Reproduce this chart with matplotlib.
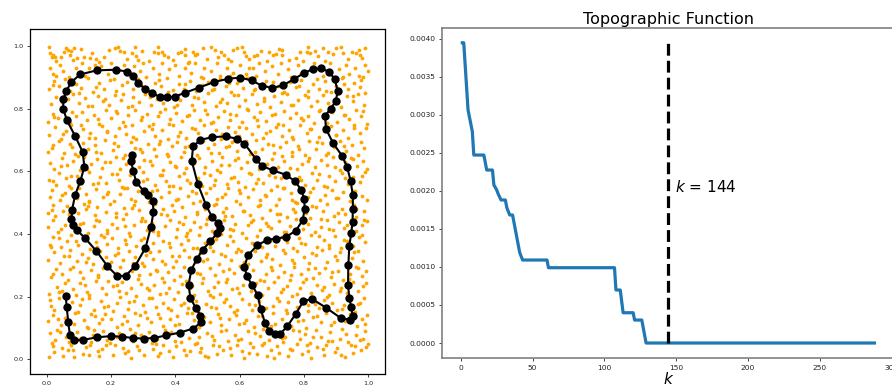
import matplotlib
matplotlib.use("Agg")
import matplotlib.pyplot as plt
from matplotlib.ticker import FormatStrFormatter, MultipleLocator
import numpy as np

# ---------------- Left panel: orange point cloud, read band by band (y ranges) ----------------
band_00 = [(.006,.008),(.018,.041),(.024,.022),(.047,.036),(.052,.011),(.077,.047),(.081,.029),(.084,.006),(.113,.018),(.121,.039),(.135,.044),(.158,.027),(.162,.009),(.171,.032),(.207,.015),(.213,.046),(.236,.037),(.244,.021),(.262,.003),(.281,.042),(.287,.028),(.304,.012),(.331,.033),(.339,.048),(.352,.019),(.38,.025),(.392,.007),(.403,.043),(.427,.031),(.433,.014),(.461,.049),(.476,.022),(.481,.035),(.503,.006),(.529,.017),(.536,.041),(.548,.029),(.574,.012),(.591,.045),(.607,.026),(.612,.004),(.641,.038),(.655,.016),(.668,.047),(.684,.009),(.699,.031),(.716,.043),(.721,.021),(.749,.011),(.758,.034),(.779,.049),(.793,.018),(.814,.027),(.823,.003),(.841,.039),(.862,.014),(.869,.046),(.897,.023),(.904,.036),(.928,.008),(.947,.044),(.953,.019),(.976,.029),(.994,.038),(.998,.049)]
band_05 = [(.009,.083),(.027,.061),(.033,.094),(.061,.072),(.069,.054),(.094,.088),(.108,.067),(.127,.099),(.139,.056),(.145,.078),(.176,.091),(.188,.063),(.197,.052),(.224,.084),(.231,.069),(.258,.096),(.267,.058),(.293,.077),(.318,.087),(.326,.053),(.344,.066),(.369,.092),(.371,.074),(.398,.058),(.415,.081),(.442,.069),(.451,.097),(.468,.052),(.497,.085),(.513,.073),(.521,.061),(.557,.094),(.563,.057),(.584,.079),(.603,.066),(.626,.089),(.631,.053),(.663,.074),(.672,.098),(.691,.061),(.712,.083),(.734,.056),(.741,.071),(.766,.094),(.787,.065),(.802,.081),(.818,.052),(.837,.093),(.853,.072),(.874,.058),(.881,.087),(.912,.066),(.919,.096),(.938,.054),(.961,.079),(.973,.062),(.989,.091)]
band_10 = [(.004,.123),(.021,.142),(.043,.108),(.056,.131),(.072,.117),(.088,.149),(.117,.126),(.124,.104),(.151,.139),(.163,.115),(.182,.146),(.201,.127),(.219,.102),(.241,.137),(.249,.121),(.276,.148),(.284,.109),(.311,.133),(.323,.118),(.347,.144),(.361,.106),(.382,.127),(.404,.139),(.411,.113),(.437,.147),(.458,.124),(.474,.103),(.489,.136),(.507,.119),(.533,.145),(.542,.108),(.566,.129),(.588,.141),(.597,.112),(.619,.126),(.644,.104),(.658,.138),(.677,.121),(.703,.147),(.709,.114),(.731,.129),(.759,.107),(.772,.142),(.798,.125),(.806,.101),(.829,.136),(.852,.118),(.867,.147),(.883,.109),(.909,.131),(.927,.122),(.943,.144),(.966,.105),(.981,.128),(.996,.141)]
band_15 = [(.012,.171),(.024,.156),(.039,.194),(.065,.163),(.079,.182),(.096,.151),(.104,.174),(.131,.197),(.148,.158),(.169,.185),(.177,.166),(.206,.153),(.218,.179),(.229,.198),(.254,.161),(.272,.187),(.298,.173),(.306,.152),(.328,.194),(.341,.168),(.363,.181),(.388,.157),(.396,.191),(.417,.172),(.439,.163),(.463,.186),(.471,.153),(.494,.177),(.518,.199),(.527,.162),(.551,.184),(.571,.169),(.582,.152),(.606,.193),(.629,.176),(.637,.158),(.661,.187),(.683,.164),(.704,.171),(.717,.195),(.743,.156),(.751,.182),(.778,.168),(.793,.191),(.811,.154),(.834,.177),(.846,.162),(.871,.198),(.886,.181),(.902,.158),(.924,.173),(.941,.189),(.958,.152),(.967,.176),(.987,.195)]
band_20 = [(.007,.207),(.031,.232),(.038,.216),(.058,.244),(.083,.223),(.091,.204),(.119,.238),(.126,.214),(.153,.249),(.171,.226),(.183,.209),(.207,.235),(.226,.218),(.233,.247),(.261,.228),(.279,.203),(.294,.241),(.317,.221),(.334,.237),(.352,.207),(.366,.246),(.381,.226),(.408,.214),(.421,.239),(.446,.229),(.459,.205),(.483,.243),(.502,.217),(.519,.232),(.538,.208),(.556,.247),(.577,.224),(.598,.211),(.611,.236),(.634,.219),(.652,.243),(.669,.206),(.688,.229),(.706,.248),(.728,.215),(.746,.233),(.764,.202),(.787,.226),(.796,.245),(.823,.213),(.839,.236),(.857,.222),(.878,.204),(.893,.241),(.915,.227),(.933,.211),(.951,.247),(.969,.218),(.985,.234)]
band_25 = [(.014,.263),(.028,.287),(.049,.271),(.067,.254),(.082,.296),(.103,.279),(.112,.258),(.137,.284),(.159,.268),(.174,.292),(.191,.251),(.214,.276),(.228,.294),(.247,.262),(.266,.281),(.283,.255),(.302,.297),(.321,.271),(.339,.286),(.357,.259),(.378,.278),(.393,.296),(.414,.265),(.434,.251),(.449,.289),(.467,.274),(.486,.258),(.508,.292),(.524,.269),(.547,.282),(.562,.255),(.583,.274),(.601,.297),(.622,.264),(.643,.286),(.664,.252),(.681,.271),(.697,.293),(.718,.261),(.737,.279),(.756,.254),(.769,.296),(.791,.272),(.812,.287),(.827,.258),(.848,.276),(.866,.292),(.884,.263),(.907,.281),(.921,.253),(.944,.271),(.962,.294),(.979,.267),(.993,.282)]
band_30 = [(.005,.318),(.023,.341),(.042,.307),(.054,.329),(.071,.348),(.093,.314),(.109,.336),(.128,.322),(.144,.304),(.166,.344),(.184,.327),(.199,.311),(.223,.339),(.238,.318),(.256,.347),(.273,.325),(.295,.306),(.309,.332),(.331,.319),(.349,.344),(.368,.303),(.389,.328),(.401,.312),(.426,.349),(.441,.326),(.462,.309),(.478,.338),(.499,.321),(.517,.346),(.536,.304),(.554,.331),(.573,.318),(.589,.342),(.614,.309),(.628,.327),(.649,.346),(.666,.313),(.686,.335),(.702,.321),(.724,.302),(.741,.338),(.762,.317),(.777,.344),(.801,.326),(.816,.308),(.838,.333),(.856,.349),(.873,.311),(.895,.329),(.912,.341),(.931,.305),(.949,.322),(.968,.347),(.984,.314)]
band_35 = [(.011,.366),(.019,.391),(.044,.357),(.062,.378),(.075,.396),(.097,.364),(.118,.385),(.134,.353),(.152,.374),(.168,.398),(.189,.367),(.204,.386),(.221,.355),(.243,.379),(.259,.393),(.277,.361),(.292,.382),(.314,.351),(.329,.371),(.346,.397),(.362,.376),(.384,.359),(.403,.389),(.418,.368),(.439,.381),(.454,.354),(.473,.395),(.491,.372),(.507,.358),(.526,.384),(.543,.399),(.561,.365),(.579,.377),(.596,.352),(.619,.388),(.638,.371),(.654,.394),(.671,.359),(.693,.378),(.711,.363),(.732,.391),(.748,.373),(.767,.355),(.784,.386),(.803,.369),(.821,.396),(.842,.358),(.861,.381),(.879,.366),(.898,.392),(.916,.354),(.934,.378),(.953,.362),(.971,.389),(.991,.373)]
band_40 = [(.003,.421),(.021,.443),(.036,.406),(.057,.429),(.073,.447),(.089,.414),(.113,.436),(.129,.403),(.147,.425),(.164,.442),(.187,.411),(.203,.432),(.219,.418),(.237,.448),(.257,.402),(.271,.427),(.293,.441),(.312,.413),(.326,.434),(.347,.407),(.367,.424),(.383,.446),(.404,.416),(.424,.433),(.437,.404),(.459,.438),(.476,.421),(.497,.447),(.514,.409),(.531,.426),(.552,.443),(.569,.417),(.587,.431),(.606,.402),(.627,.428),(.643,.445),(.664,.412),(.683,.436),(.699,.419),(.721,.441),(.739,.407),(.758,.425),(.776,.448),(.796,.415),(.813,.432),(.834,.406),(.852,.423),(.871,.444),(.889,.413),(.909,.437),(.926,.418),(.945,.446),(.963,.408),(.982,.429),(.997,.441)]
band_45 = [(.004,.468),(.019,.493),(.026,.457),(.051,.474),(.063,.489),(.071,.452),(.098,.466),(.115,.497),(.122,.478),(.149,.459),(.157,.485),(.183,.471),(.196,.494),(.217,.455),(.239,.482),(.246,.463),(.271,.491),(.288,.476),(.296,.452),(.325,.468),(.338,.496),(.361,.481),(.373,.459),(.395,.473),(.422,.487),(.429,.455),(.456,.499),(.467,.464),(.492,.478),(.505,.453),(.519,.491),(.548,.469),(.559,.484),(.576,.457),(.601,.496),(.614,.472),(.633,.461),(.658,.488),(.669,.452),(.694,.476),(.713,.493),(.726,.465),(.748,.454),(.767,.481),(.779,.498),(.806,.467),(.819,.452),(.837,.485),(.859,.473),(.872,.496),(.894,.458),(.918,.479),(.927,.464),(.955,.491),(.963,.453),(.988,.472)]
band_50 = [(.009,.518),(.015,.541),(.042,.507),(.058,.532),(.076,.548),(.093,.514),(.121,.526),(.131,.503),(.152,.544),(.174,.519),(.191,.535),(.209,.506),(.228,.528),(.251,.546),(.263,.511),(.284,.538),(.309,.524),(.317,.502),(.343,.541),(.356,.517),(.379,.533),(.401,.509),(.414,.547),(.438,.522),(.451,.536),(.477,.504),(.496,.529),(.508,.545),(.531,.513),(.553,.527),(.564,.548),(.589,.506),(.602,.531),(.625,.519),(.641,.543),(.663,.508),(.679,.525),(.698,.539),(.721,.512),(.734,.547),(.759,.529),(.771,.503),(.792,.536),(.813,.518),(.829,.545),(.851,.507),(.864,.524),(.887,.541),(.906,.515),(.921,.533),(.944,.504),(.958,.538),(.979,.521),(.996,.509)]
band_55 = [(.006,.571),(.029,.556),(.037,.594),(.061,.578),(.068,.553),(.094,.586),(.109,.569),(.132,.597),(.143,.558),(.167,.581),(.185,.564),(.203,.592),(.226,.573),(.234,.551),(.259,.587),(.277,.566),(.298,.598),(.312,.576),(.336,.557),(.352,.589),(.371,.569),(.393,.552),(.411,.584),(.428,.596),(.447,.561),(.469,.577),(.483,.553),(.507,.589),(.524,.572),(.538,.598),(.562,.559),(.581,.583),(.596,.567),(.617,.551),(.634,.592),(.656,.575),(.672,.561),(.691,.587),(.715,.554),(.728,.579),(.751,.596),(.768,.563),(.786,.582),(.804,.557),(.826,.593),(.841,.571),(.863,.552),(.879,.586),(.897,.569),(.918,.594),(.936,.558),(.952,.581),(.974,.566),(.991,.598)]
band_60 = [(.011,.627),(.024,.608),(.047,.643),(.063,.619),(.081,.634),(.102,.605),(.117,.647),(.138,.622),(.156,.639),(.171,.611),(.196,.629),(.214,.646),(.229,.606),(.248,.624),(.269,.641),(.286,.613),(.304,.636),(.327,.621),(.341,.648),(.362,.604),(.384,.631),(.398,.617),(.419,.644),(.433,.609),(.458,.626),(.474,.642),(.491,.614),(.513,.633),(.529,.603),(.546,.647),(.568,.621),(.587,.637),(.605,.611),(.623,.629),(.646,.645),(.661,.607),(.684,.624),(.702,.639),(.719,.615),(.738,.632),(.762,.648),(.777,.606),(.794,.623),(.817,.641),(.833,.612),(.854,.635),(.871,.619),(.889,.646),(.912,.604),(.928,.628),(.947,.643),(.966,.616),(.983,.633),(.997,.607)]
band_65 = [(.003,.662),(.021,.684),(.039,.697),(.054,.659),(.079,.676),(.088,.654),(.113,.691),(.127,.671),(.149,.685),(.168,.657),(.182,.699),(.207,.668),(.221,.682),(.244,.653),(.261,.692),(.273,.674),(.297,.661),(.316,.688),(.334,.671),(.351,.696),(.373,.655),(.389,.679),(.406,.693),(.427,.662),(.443,.681),(.466,.652),(.479,.697),(.502,.673),(.521,.686),(.536,.658),(.557,.677),(.576,.694),(.592,.664),(.613,.682),(.631,.655),(.652,.699),(.668,.671),(.689,.687),(.706,.659),(.727,.676),(.744,.693),(.763,.662),(.781,.681),(.802,.653),(.817,.698),(.838,.672),(.856,.689),(.874,.657),(.893,.678),(.911,.695),(.932,.666),(.948,.684),(.969,.652),(.986,.675)]
band_70 = [(.008,.716),(.027,.742),(.043,.703),(.061,.727),(.077,.748),(.098,.712),(.112,.735),(.136,.721),(.151,.706),(.173,.744),(.188,.726),(.211,.711),(.226,.738),(.247,.719),(.266,.749),(.279,.704),(.303,.729),(.319,.743),(.338,.714),(.357,.732),(.376,.702),(.394,.746),(.413,.724),(.434,.707),(.451,.739),(.469,.721),(.488,.748),(.507,.713),(.526,.731),(.542,.704),(.563,.742),(.584,.726),(.598,.711),(.619,.737),(.637,.718),(.658,.745),(.674,.706),(.693,.728),(.712,.741),(.731,.714),(.753,.733),(.766,.703),(.789,.747),(.808,.721),(.823,.736),(.846,.709),(.861,.727),(.883,.744),(.899,.716),(.921,.731),(.937,.705),(.957,.748),(.973,.722),(.992,.738)]
band_75 = [(.005,.758),(.018,.783),(.036,.769),(.057,.796),(.072,.754),(.091,.777),(.109,.789),(.124,.762),(.146,.781),(.163,.752),(.184,.797),(.199,.771),(.219,.785),(.238,.756),(.254,.778),(.276,.794),(.292,.763),(.311,.782),(.332,.751),(.346,.775),(.368,.798),(.383,.767),(.402,.786),(.421,.759),(.441,.779),(.458,.795),(.476,.764),(.497,.784),(.512,.753),(.533,.772),(.551,.791),(.569,.765),(.588,.781),(.607,.757),(.624,.798),(.645,.774),(.663,.788),(.682,.761),(.701,.779),(.718,.752),(.739,.793),(.757,.771),(.774,.786),(.796,.763),(.812,.777),(.831,.754),(.849,.796),(.868,.772),(.887,.789),(.903,.758),(.926,.781),(.941,.766),(.962,.794),(.978,.776),(.995,.752)]
band_80 = [(.013,.816),(.029,.837),(.048,.805),(.066,.829),(.083,.846),(.101,.819),(.118,.833),(.141,.807),(.158,.841),(.176,.823),(.195,.811),(.213,.844),(.231,.827),(.252,.806),(.268,.836),(.287,.821),(.305,.848),(.324,.812),(.342,.831),(.363,.817),(.378,.843),(.397,.806),(.416,.826),(.436,.845),(.452,.813),(.472,.834),(.489,.821),(.503,.849),(.527,.808),(.546,.831),(.561,.818),(.582,.842),(.598,.807),(.618,.827),(.638,.846),(.654,.815),(.676,.833),(.693,.804),(.708,.839),(.729,.822),(.747,.847),(.766,.811),(.782,.828),(.803,.842),(.821,.809),(.839,.825),(.858,.844),(.876,.817),(.895,.832),(.914,.806),(.933,.839),(.951,.823),(.969,.848),(.987,.813)]
band_85 = [(.007,.863),(.022,.887),(.039,.871),(.058,.894),(.073,.856),(.091,.879),(.108,.866),(.129,.897),(.144,.853),(.162,.881),(.179,.864),(.196,.892),(.214,.857),(.233,.874),(.249,.886),(.267,.861),(.285,.894),(.301,.869),(.322,.852),(.337,.883),(.356,.872),(.373,.897),(.392,.859),(.411,.878),(.428,.864),(.447,.889),(.463,.856),(.484,.874),(.502,.885),(.519,.862),(.538,.893),(.556,.871),(.574,.854),(.593,.882),(.611,.866),(.629,.897),(.646,.858),(.667,.876),(.683,.889),(.702,.861),(.719,.873),(.737,.852),(.756,.884),(.774,.868),(.792,.892),(.811,.857),(.829,.879),(.847,.864),(.866,.888),(.883,.853),(.901,.871),(.919,.896),(.938,.862),(.956,.883),(.973,.869),(.991,.851)]
band_90 = [(.01,.93),(.02,.91),(.03,.905),(.04,.94),(.05,.92),(.07,.90),(.09,.93),(.11,.945),(.12,.905),(.13,.93),(.15,.94),(.17,.935),(.19,.91),(.20,.945),(.22,.93),(.24,.94),(.26,.915),(.27,.935),(.29,.92),(.30,.945),(.31,.90),(.33,.93),(.35,.91),(.36,.945),(.38,.925),(.40,.94),(.41,.905),(.43,.93),(.44,.945),(.45,.915),(.46,.945),(.48,.90),(.49,.93),(.51,.92),(.53,.945),(.54,.905),(.56,.93),(.57,.905),(.58,.915),(.60,.94),(.62,.91),(.63,.93),(.64,.93),(.65,.905),(.66,.945),(.68,.92),(.70,.935),(.72,.91),(.73,.945),(.75,.925),(.76,.90),(.78,.94),(.79,.915),(.83,.945),(.84,.93),(.86,.905),(.88,.945),(.91,.925),(.92,.90),(.93,.94),(.94,.91),(.96,.93),(.97,.905),(.985,.90),(.99,.94),(1.0,.92)]
band_95 = [(.008,.998),(.010,.977),(.016,.966),(.021,.971),(.026,.964),(.045,.966),(.059,.993),(.067,.987),(.076,.985),(.085,.993),(.073,.971),(.081,.955),(.117,.966),(.135,.961),(.152,.957),(.179,.966),(.212,.993),(.223,.998),(.228,.985),(.241,.982),(.275,.998),(.264,.977),(.278,.968),(.285,.955),(.335,.979),(.345,.977),(.358,.982),(.365,.971),(.378,.964),(.409,.977),(.430,.989),(.431,.971),(.456,.979),(.461,.971),(.468,.974),(.510,.998),(.523,.987),(.534,.966),(.552,.971),(.565,.957),(.580,.987),(.593,.993),(.613,.979),(.619,.968),(.645,.968),(.653,.971),(.692,.982),(.703,.971),(.713,.974),(.731,.987),(.731,.971),(.775,.961),(.808,.982),(.813,.998),(.819,.977),(.834,.985),(.858,.993),(.874,.979),(.899,.993),(.922,.977),(.948,.979),(.972,.987),(.974,.971),(.982,.961)]
# second pass of points read between the first ones (0.1-tall bands)
fill_0 = [(.015,.052),(.042,.087),(.066,.031),(.097,.064),(.131,.012),(.147,.093),(.183,.044),(.219,.071),(.252,.026),(.275,.083),(.309,.058),(.347,.009),(.362,.047),(.387,.088),(.419,.054),(.447,.027),(.474,.072),(.492,.011),(.517,.046),(.541,.091),(.569,.035),(.596,.062),(.628,.021),(.647,.083),(.676,.052),(.706,.004),(.731,.067),(.762,.029),(.784,.089),(.808,.047),(.829,.071),(.858,.033),(.886,.058),(.915,.014),(.932,.081),(.958,.041),(.983,.066)]
fill_1 = [(.011,.188),(.034,.127),(.061,.159),(.086,.113),(.111,.191),(.138,.146),(.172,.128),(.192,.169),(.235,.114),(.257,.183),(.289,.141),(.317,.196),(.352,.131),(.376,.164),(.398,.108),(.427,.181),(.452,.147),(.483,.119),(.512,.168),(.538,.132),(.557,.191),(.592,.157),(.613,.116),(.648,.174),(.669,.139),(.697,.106),(.723,.186),(.748,.149),(.781,.121),(.813,.172),(.842,.137),(.861,.188),(.894,.119),(.917,.159),(.948,.136),(.974,.181),(.991,.112)]
fill_2 = [(.021,.271),(.047,.219),(.073,.288),(.104,.243),(.133,.206),(.161,.262),(.195,.291),(.218,.238),(.246,.213),(.287,.268),(.312,.229),(.343,.283),(.372,.211),(.397,.252),(.426,.296),(.453,.234),(.476,.272),(.507,.204),(.534,.248),(.566,.289),(.591,.227),(.617,.264),(.648,.202),(.676,.251),(.702,.284),(.734,.223),(.761,.268),(.779,.209),(.806,.256),(.834,.291),(.861,.232),(.888,.277),(.911,.218),(.939,.257),(.967,.291),(.992,.243)]
fill_3 = [(.012,.357),(.038,.388),(.069,.331),(.092,.377),(.123,.309),(.157,.359),(.179,.391),(.211,.334),(.247,.368),(.268,.306),(.301,.386),(.321,.343),(.358,.312),(.379,.371),(.412,.328),(.433,.393),(.468,.354),(.487,.314),(.518,.376),(.543,.336),(.571,.392),(.603,.347),(.626,.304),(.654,.366),(.681,.327),(.709,.389),(.736,.349),(.769,.307),(.792,.372),(.824,.339),(.846,.394),(.879,.356),(.904,.318),(.926,.381),(.957,.341),(.981,.396)]
fill_4 = [(.016,.476),(.044,.417),(.068,.462),(.103,.431),(.128,.489),(.153,.446),(.186,.403),(.214,.467),(.243,.426),(.266,.482),(.306,.441),(.332,.408),(.354,.463),(.389,.492),(.411,.437),(.446,.411),(.468,.471),(.494,.433),(.527,.496),(.554,.456),(.578,.412),(.609,.474),(.636,.438),(.662,.491),(.689,.424),(.716,.462),(.743,.407),(.771,.471),(.797,.436),(.826,.488),(.853,.449),(.877,.416),(.906,.467),(.934,.428),(.961,.481),(.988,.443)]
fill_5 = [(.021,.569),(.049,.524),(.076,.584),(.101,.548),(.133,.506),(.161,.563),(.189,.527),(.218,.591),(.241,.545),(.274,.506),(.299,.569),(.328,.536),(.357,.587),(.381,.552),(.408,.511),(.437,.573),(.463,.529),(.489,.594),(.519,.556),(.546,.518),(.573,.577),(.599,.541),(.628,.596),(.651,.562),(.683,.521),(.709,.583),(.737,.547),(.763,.508),(.791,.571),(.818,.534),(.846,.592),(.872,.549),(.901,.514),(.929,.577),(.953,.538),(.982,.586)]
fill_6 = [(.017,.673),(.043,.618),(.071,.688),(.096,.649),(.126,.607),(.152,.661),(.181,.628),(.209,.691),(.238,.643),(.263,.607),(.291,.671),(.322,.632),(.348,.688),(.376,.649),(.403,.613),(.431,.676),(.457,.634),(.486,.697),(.511,.658),(.541,.619),(.566,.681),(.594,.641),(.621,.696),(.649,.662),(.677,.622),(.703,.683),(.732,.648),(.758,.609),(.786,.672),(.813,.634),(.841,.693),(.868,.653),(.897,.615),(.924,.679),(.951,.639),(.977,.692)]
fill_7 = [(.024,.772),(.051,.718),(.079,.788),(.106,.748),(.131,.706),(.159,.767),(.186,.729),(.214,.791),(.243,.744),(.269,.708),(.297,.773),(.326,.734),(.353,.789),(.381,.751),(.408,.712),(.436,.777),(.462,.735),(.491,.797),(.517,.758),(.544,.719),(.571,.782),(.598,.741),(.626,.796),(.654,.763),(.681,.723),(.709,.784),(.736,.748),(.763,.709),(.791,.771),(.819,.736),(.846,.793),(.873,.754),(.901,.716),(.928,.778),(.955,.739),(.983,.791)]
fill_8 = [(.018,.876),(.046,.821),(.073,.889),(.101,.849),(.127,.807),(.154,.868),(.182,.829),(.209,.893),(.237,.845),(.264,.809),(.293,.874),(.321,.836),(.348,.891),(.376,.852),(.404,.813),(.431,.879),(.459,.837),(.486,.898),(.513,.859),(.539,.821),(.567,.883),(.594,.843),(.622,.897),(.649,.864),(.676,.824),(.704,.886),(.731,.849),(.759,.811),(.786,.872),(.814,.837),(.841,.894),(.869,.856),(.896,.818),(.923,.879),(.951,.841),(.978,.892)]
fill_9 = [(.028,.952),(.055,.981),(.093,.962),(.106,.991),(.142,.978),(.163,.949),(.194,.988),(.251,.958),(.297,.984),(.318,.951),(.347,.996),(.392,.956),(.418,.982),(.443,.948),(.487,.993),(.499,.958),(.541,.979),(.574,.952),(.606,.996),(.628,.959),(.667,.985),(.684,.951),(.722,.991),(.752,.956),(.788,.982),(.796,.951),(.843,.968),(.866,.952),(.891,.973),(.914,.996),(.936,.958),(.961,.976),(.989,.992)]

# ---------------- Left panel: black path through the points ----------------
path_x = [0.059,0.062,0.067,0.072,0.085,0.114,0.156,0.200,0.234,0.267,0.301,0.334,0.371,0.413,0.456,0.480,0.478,0.463,0.447,0.441,
          0.450,0.467,0.485,0.509,0.530,0.539,0.533,0.514,0.495,0.470,0.451,0.455,0.478,0.515,0.556,0.592,0.615,0.650,0.669,0.703,
          0.743,0.773,0.792,0.801,0.802,0.796,0.774,0.744,0.712,0.686,0.655,0.626,0.615,0.622,0.639,0.656,0.665,0.679,0.692,0.709,
          0.727,0.748,0.774,0.798,0.824,0.868,0.915,0.943,0.951,0.947,0.941,0.937,0.938,0.941,0.947,0.951,0.952,0.952,0.945,0.934,
          0.918,0.891,0.868,0.866,0.883,0.899,0.905,0.895,0.877,0.853,0.828,0.801,0.769,0.734,0.702,0.669,0.637,0.601,0.564,0.521,
          0.474,0.431,0.398,0.374,0.353,0.328,0.305,0.284,0.267,0.250,0.215,0.156,0.104,0.076,0.061,0.052,0.051,0.063,0.089,0.112,
          0.117,0.105,0.088,0.079,0.077,0.083,0.093,0.118,0.154,0.189,0.219,0.245,0.275,0.307,0.324,0.332,0.330,0.316,0.301,0.278,
          0.269,0.262,0.266]
path_y = [0.203,0.168,0.118,0.078,0.060,0.062,0.070,0.074,0.072,0.068,0.066,0.068,0.076,0.085,0.098,0.118,0.139,0.165,0.195,0.237,
          0.286,0.320,0.350,0.376,0.403,0.418,0.435,0.454,0.493,0.559,0.633,0.679,0.700,0.709,0.711,0.704,0.688,0.640,0.617,0.603,
          0.589,0.568,0.539,0.511,0.480,0.443,0.410,0.390,0.385,0.381,0.364,0.332,0.296,0.266,0.236,0.205,0.161,0.116,0.090,0.080,
          0.082,0.105,0.144,0.185,0.193,0.165,0.131,0.126,0.139,0.166,0.196,0.238,0.300,0.362,0.402,0.437,0.478,0.523,0.570,0.614,
          0.650,0.689,0.736,0.777,0.800,0.824,0.857,0.895,0.918,0.928,0.926,0.914,0.894,0.874,0.866,0.873,0.890,0.899,0.895,0.885,
          0.867,0.851,0.838,0.836,0.837,0.849,0.863,0.883,0.905,0.918,0.924,0.922,0.909,0.884,0.856,0.830,0.800,0.762,0.711,0.661,
          0.614,0.570,0.523,0.477,0.447,0.428,0.413,0.388,0.346,0.297,0.266,0.266,0.298,0.355,0.421,0.470,0.504,0.523,0.537,0.566,
          0.602,0.633,0.653]

# ---------------- Right panel: topographic function ----------------
topo_k = [1, 2, 5, 8, 9, 16, 18, 22, 23, 25, 26, 28, 31, 32, 34, 36, 41, 43, 60, 61, 107, 108, 111, 113, 120, 121, 126, 129, 288]
topo_v = [0.003947, 0.003947, 0.003063, 0.002778, 0.002471, 0.002471, 0.002274, 0.002274, 0.002077, 0.002011, 0.001959,
          0.001880, 0.001880, 0.001779, 0.001683, 0.001683, 0.001187, 0.001091, 0.001091, 0.000990, 0.000990, 0.000697,
          0.000697, 0.000398, 0.000398, 0.000302, 0.000302, 0.0, 0.0]
k_star = 144
k_label = "$k$ = 144"
right_title = "Topographic Function"
x_label = "$k$"

bands = [band_00, band_05, band_10, band_15, band_20, band_25, band_30, band_35, band_40, band_45,
         band_50, band_55, band_60, band_65, band_70, band_75, band_80, band_85, band_90, band_95,
         fill_0, fill_1, fill_2, fill_3, fill_4, fill_5, fill_6, fill_7, fill_8, fill_9]
pts = np.array([p for b in bands for p in b])

W, H = 892, 389
fig = plt.figure(figsize=(W / 100, H / 100), dpi=100)

# Left axes
axL = fig.add_axes([30 / W, 1 - 374.3 / H, 355 / W, 345 / H])
axL.scatter(pts[:, 0], pts[:, 1], s=7.5, color="#FFA500", linewidths=0, zorder=1)
axL.plot(path_x, path_y, color="black", linewidth=1.5, marker="o", markersize=5, zorder=2)
axL.set_xlim(-0.052, 1.052)
axL.set_ylim(-0.048, 1.053)
axL.xaxis.set_major_locator(MultipleLocator(0.2))
axL.yaxis.set_major_locator(MultipleLocator(0.2))
axL.xaxis.set_major_formatter(FormatStrFormatter("%.1f"))
axL.yaxis.set_major_formatter(FormatStrFormatter("%.1f"))
axL.tick_params(labelsize=4.6, length=2.5, width=0.6, pad=2, colors="#222222")
for s in axL.spines.values():
    s.set_linewidth(0.9)
    s.set_color("black")

# Right axes
axR = fig.add_axes([441.7 / W, 1 - 358.3 / H, 453.3 / W, 330.6 / H])
axR.plot(topo_k, topo_v, color="#1f77b4", linewidth=2.3, solid_joinstyle="round")
axR.vlines(k_star, 0, max(topo_v), colors="black", linestyles="--", linewidth=2.3)
axR.text(k_star + 5, 0.00205, k_label, fontsize=11, va="center", ha="left")
axR.set_title(right_title, fontsize=11.5, pad=3)
axR.set_xlabel(x_label, fontsize=11, labelpad=0)
axR.set_xlim(-13.35, 302.35)
axR.set_ylim(-0.000201, 0.004145)
axR.xaxis.set_major_locator(MultipleLocator(50))
axR.yaxis.set_major_locator(MultipleLocator(0.0005))
axR.yaxis.set_major_formatter(FormatStrFormatter("%.4f"))
axR.tick_params(labelsize=5.4, length=2.5, width=0.6, pad=2, colors="#222222")
for s in axR.spines.values():
    s.set_linewidth(1.2)
    s.set_color("#808080")

fig.savefig("out.png", dpi=100)
